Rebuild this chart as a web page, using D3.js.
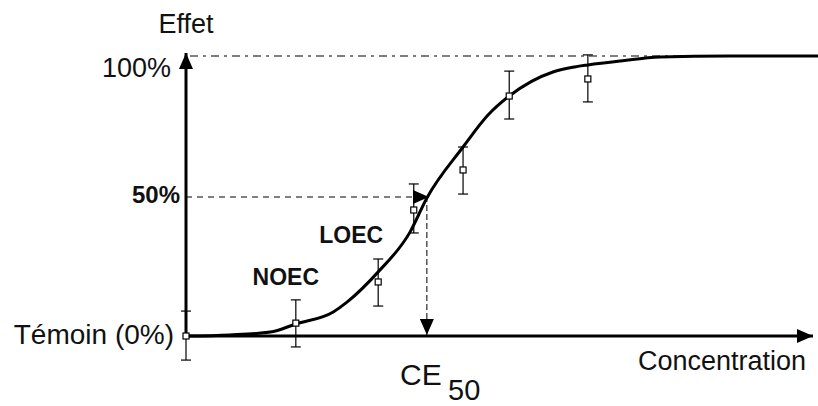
<!DOCTYPE html>
<html><head><meta charset="utf-8">
<script src="https://cdn.jsdelivr.net/npm/d3@7"></script>
<style>
html,body{margin:0;padding:0;background:#fff;}
svg{display:block;}
text{font-family:"Liberation Sans",Arial,sans-serif;fill:#111;}
</style></head>
<body>
<svg id="c" width="818" height="406"></svg>
<script>
// Observed data points (concentration, % effect) with error bar bounds
const concentrations = [0, 17.6, 30.8, 36.5, 44.4, 51.8, 64.4];
const effects        = [0, 4.6, 19.3, 45.0, 59.3, 85.7, 91.8];
const errLow         = [-8.6, -3.9, 10.7, 36.8, 50.7, 77.5, 83.6];
const errHigh        = [8.9, 12.9, 27.5, 54.3, 67.5, 94.6, 100.4];

// Fitted dose-response curve
const curveConc   = [0, 7, 13.5, 17.6, 23.6, 25.8, 30.8, 35.9, 38.6, 44.4, 48.4, 51.8, 58.8, 62.3, 64.4, 69.6, 76, 87, 101.5];
const curveEffect = [0, 0.4, 1.4, 4.3, 8.6, 12.1, 22.9, 37.1, 49.3, 67.5, 78.9, 85.7, 94.3, 96.1, 96.8, 98.2, 99.6, 100, 100];

const yTickLabels = ["Témoin (0%)", "50%", "100%"];
const yTickValues = [0, 50, 100];
const ce50 = 38.6;
const labels = {noec: "NOEC", loec: "LOEC", yTitle: "Effet", xTitle: "Concentration"};

const svg = d3.select("#c");
const x = d3.scaleLinear().domain([0, 100]).range([186, 810]);
const y = d3.scaleLinear().domain([0, 100]).range([336, 56]);

// arrow markers
const defs = svg.append("defs");
function tri(id){
  defs.append("marker").attr("id", id).attr("viewBox","0 0 16 14")
    .attr("refX",16).attr("refY",7).attr("markerWidth",16).attr("markerHeight",14)
    .attr("markerUnits","userSpaceOnUse").attr("orient","auto")
    .append("path").attr("d","M0,0 L16,7 L0,14 Z").attr("fill","#000");
}
tri("arr");

// 100% dash-dot reference line
svg.append("line").attr("x1", x(0)+4).attr("x2", x(88)).attr("y1", y(100)).attr("y2", y(100))
  .attr("stroke","#000").attr("stroke-width",1.2).attr("stroke-dasharray","8,5,3,5");

// 50% horizontal dashed line with arrow
svg.append("line").attr("x1", x(0)).attr("x2", x(ce50)+2).attr("y1", y(50)+1).attr("y2", y(50)+1)
  .attr("stroke","#000").attr("stroke-width",1).attr("stroke-dasharray","6,5")
  .attr("marker-end","url(#arr)");
// vertical dashed line down to CE50
svg.append("line").attr("x1", x(ce50)).attr("x2", x(ce50)).attr("y1", y(50)).attr("y2", y(0)-1)
  .attr("stroke","#000").attr("stroke-width",1).attr("stroke-dasharray","6,3")
  .attr("marker-end","url(#arr)");

// axes
svg.append("line").attr("x1", x(0)).attr("x2", 813).attr("y1", y(0)).attr("y2", y(0))
  .attr("stroke","#000").attr("stroke-width",3).attr("marker-end","url(#arr)");
svg.append("line").attr("x1", x(0)).attr("x2", x(0)).attr("y1", y(0)).attr("y2", y(100)-3)
  .attr("stroke","#000").attr("stroke-width",3).attr("marker-end","url(#arr)");

// curve
const line = d3.line().x(d=>x(d[0])).y(d=>y(d[1])).curve(d3.curveMonotoneX);
svg.append("path").datum(curveConc.map((c,i)=>[c, curveEffect[i]]))
  .attr("d", line).attr("fill","none").attr("stroke","#000").attr("stroke-width",3);

// error bars
const pts = concentrations.map((c,i)=>({c, e:effects[i], lo:errLow[i], hi:errHigh[i]}));
const g = svg.append("g").attr("stroke","#000").attr("stroke-width",1.2);
pts.forEach(p=>{
  const cx = x(p.c);
  g.append("line").attr("x1",cx).attr("x2",cx).attr("y1",y(p.lo)).attr("y2",y(p.hi));
  g.append("line").attr("x1",cx-5).attr("x2",cx+5).attr("y1",y(p.lo)).attr("y2",y(p.lo));
  g.append("line").attr("x1",cx-5).attr("x2",cx+5).attr("y1",y(p.hi)).attr("y2",y(p.hi));
});
svg.append("g").selectAll("rect").data(pts).join("rect")
  .attr("x",d=>x(d.c)-3).attr("y",d=>y(d.e)-3).attr("width",6).attr("height",6)
  .attr("fill","#fff").attr("stroke","#000").attr("stroke-width",1.2);

// y tick labels
const tl = svg.append("g");
tl.append("text").attr("x",174).attr("y",y(0)+8).attr("text-anchor","end")
  .attr("font-size",28).text(yTickLabels[0]);
tl.append("text").attr("x",180).attr("y",y(50)+7).attr("text-anchor","end")
  .attr("font-size",24).attr("font-weight","bold").text(yTickLabels[1]);
tl.append("text").attr("x",171).attr("y",y(100)+21).attr("text-anchor","end")
  .attr("font-size",27).text(yTickLabels[2]);

// titles
svg.append("text").attr("x",x(0)).attr("y",33).attr("text-anchor","middle")
  .attr("font-size",27).text(labels.yTitle);
svg.append("text").attr("x",806).attr("y",370).attr("text-anchor","end")
  .attr("font-size",27).text(labels.xTitle);

// annotations
svg.append("text").attr("x",x(concentrations[1])-10).attr("y",285).attr("text-anchor","middle")
  .attr("font-size",23).attr("font-weight","bold").text(labels.noec);
svg.append("text").attr("x",x(concentrations[2])-27).attr("y",243).attr("text-anchor","middle")
  .attr("font-size",23).attr("font-weight","bold").text(labels.loec);

const ce = svg.append("text").attr("x",400).attr("y",385).attr("font-size",30);
ce.append("tspan").text("CE");
ce.append("tspan").attr("x",448).attr("y",400).attr("font-size",29).text("50");
</script>
</body></html>
